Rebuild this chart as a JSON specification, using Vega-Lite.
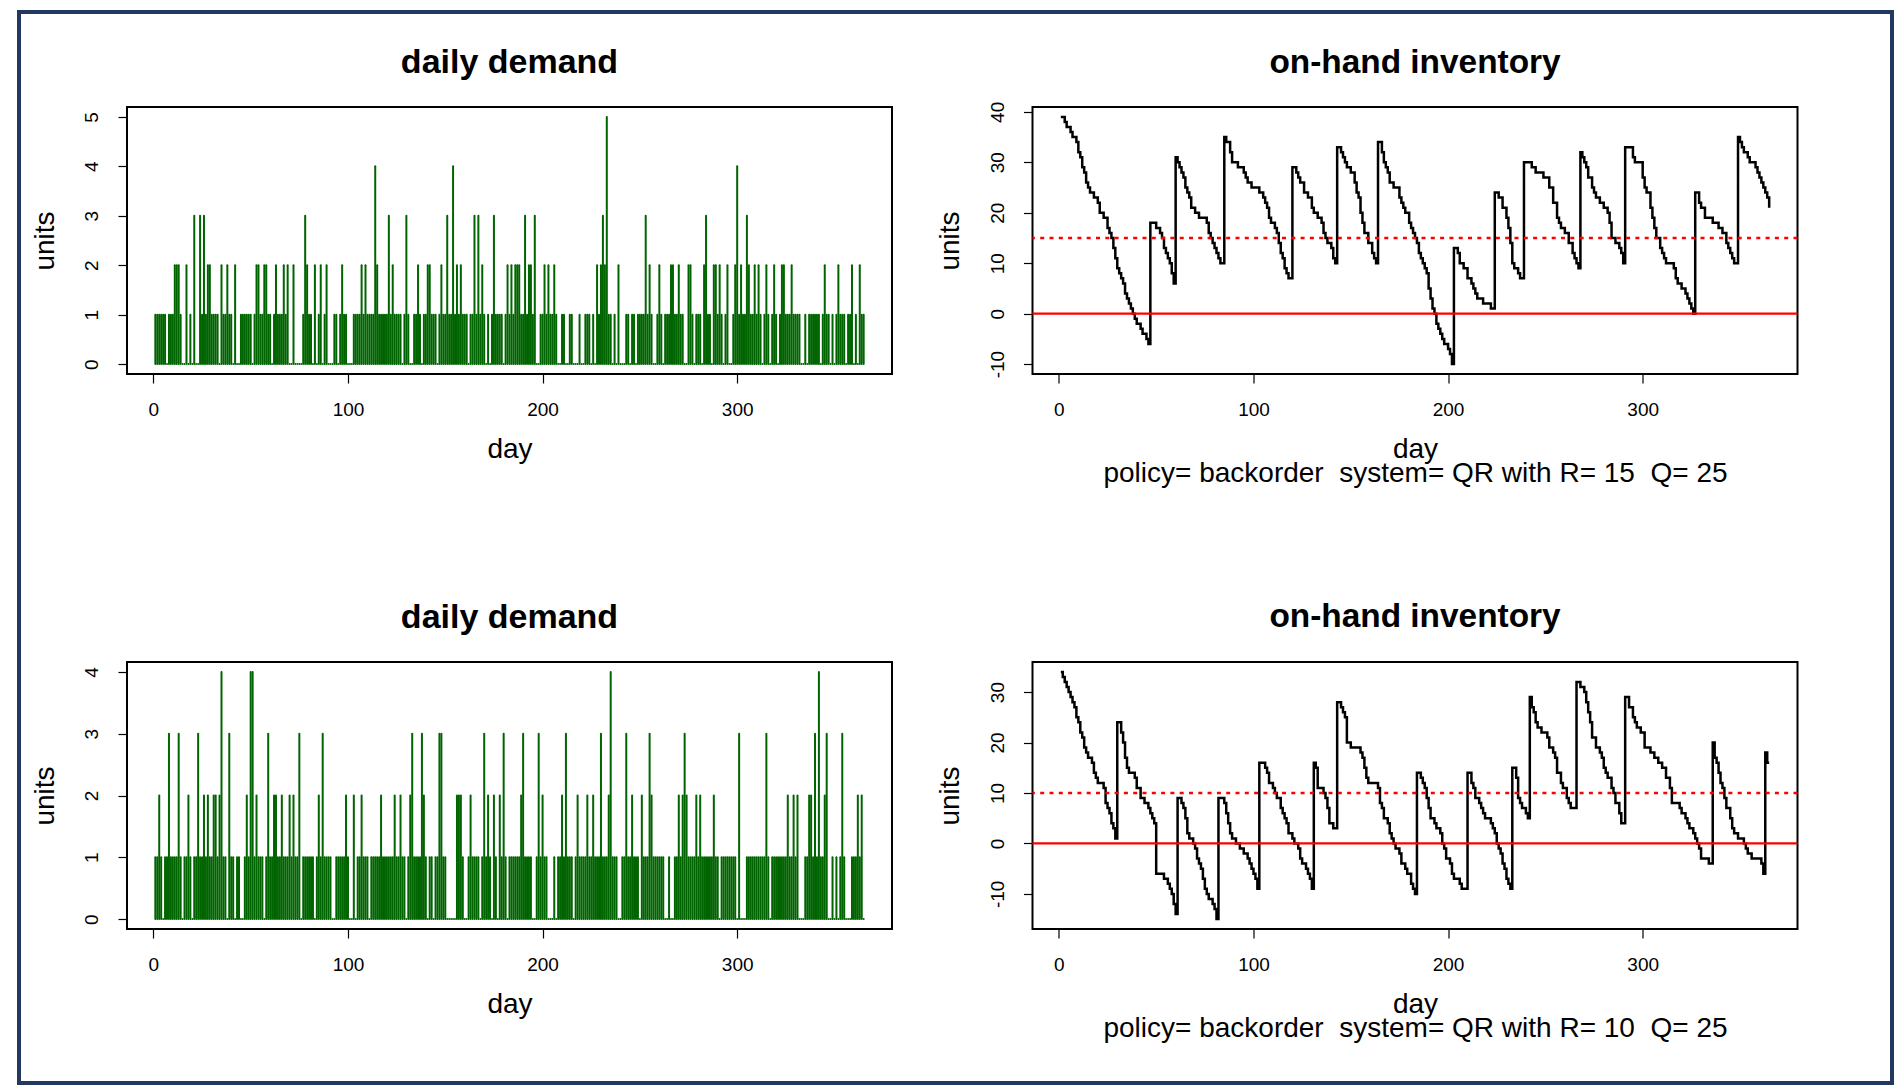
{
"$schema": "https://vega.github.io/schema/vega-lite/v6.json",
"background": "white",
"padding": {"left": 17, "top": 10, "right": 5, "bottom": 3},
"spacing": 0,
"config": {
  "font": "Liberation Sans",
  "view": {"stroke": "black", "strokeWidth": 2},
  "axis": {"domain": false, "grid": false, "ticks": true, "tickColor": "black", "tickWidth": 1.2, "tickSize": 9, "labelFont": "Liberation Sans", "labelFontSize": 19, "labelColor": "black", "titleFont": "Liberation Sans", "titleFontSize": 28, "titleFontWeight": "normal", "titleColor": "black", "labelOverlap": false, "labelFlush": false},
  "axisX": {"labelPadding": 17, "titlePadding": 16.4, "titleLineHeight": 24.2},
  "axisY": {"labelAngle": -90, "labelAlign": "center", "labelBaseline": "bottom", "labelPadding": 16.4, "titlePadding": 23.5, "labelExpr": "'' + datum.value"},
  "title": {"font": "Liberation Sans", "fontSize": 34, "fontWeight": "bold", "color": "black", "baseline": "alphabetic", "anchor": "middle", "frame": "group", "offset": 27.5}
},
"datasets": {
"demTop": [
{"day":1,"units":1},{"day":2,"units":1},{"day":3,"units":1},{"day":4,"units":1},{"day":5,"units":1},{"day":6,"units":1},{"day":7,"units":0},{"day":8,"units":1},{"day":9,"units":1},{"day":10,"units":1},
{"day":11,"units":2},{"day":12,"units":2},{"day":13,"units":2},{"day":14,"units":1},{"day":15,"units":0},{"day":16,"units":0},{"day":17,"units":2},{"day":18,"units":0},{"day":19,"units":1},{"day":20,"units":0},
{"day":21,"units":3},{"day":22,"units":0},{"day":23,"units":0},{"day":24,"units":3},{"day":25,"units":1},{"day":26,"units":3},{"day":27,"units":1},{"day":28,"units":2},{"day":29,"units":2},{"day":30,"units":1},
{"day":31,"units":1},{"day":32,"units":1},{"day":33,"units":1},{"day":34,"units":0},{"day":35,"units":2},{"day":36,"units":1},{"day":37,"units":1},{"day":38,"units":2},{"day":39,"units":1},{"day":40,"units":1},
{"day":41,"units":0},{"day":42,"units":2},{"day":43,"units":0},{"day":44,"units":0},{"day":45,"units":1},{"day":46,"units":1},{"day":47,"units":1},{"day":48,"units":1},{"day":49,"units":1},{"day":50,"units":1},
{"day":51,"units":0},{"day":52,"units":1},{"day":53,"units":2},{"day":54,"units":2},{"day":55,"units":1},{"day":56,"units":1},{"day":57,"units":2},{"day":58,"units":2},{"day":59,"units":1},{"day":60,"units":1},
{"day":61,"units":0},{"day":62,"units":1},{"day":63,"units":2},{"day":64,"units":1},{"day":65,"units":1},{"day":66,"units":1},{"day":67,"units":2},{"day":68,"units":1},{"day":69,"units":2},{"day":70,"units":0},
{"day":71,"units":0},{"day":72,"units":2},{"day":73,"units":0},{"day":74,"units":0},{"day":75,"units":0},{"day":76,"units":0},{"day":77,"units":1},{"day":78,"units":3},{"day":79,"units":2},{"day":80,"units":1},
{"day":81,"units":1},{"day":82,"units":0},{"day":83,"units":2},{"day":84,"units":0},{"day":85,"units":1},{"day":86,"units":2},{"day":87,"units":0},{"day":88,"units":1},{"day":89,"units":2},{"day":90,"units":0},
{"day":91,"units":0},{"day":92,"units":0},{"day":93,"units":1},{"day":94,"units":1},{"day":95,"units":0},{"day":96,"units":1},{"day":97,"units":2},{"day":98,"units":1},{"day":99,"units":1},{"day":100,"units":0},
{"day":101,"units":0},{"day":102,"units":0},{"day":103,"units":1},{"day":104,"units":1},{"day":105,"units":1},{"day":106,"units":1},{"day":107,"units":2},{"day":108,"units":1},{"day":109,"units":2},{"day":110,"units":1},
{"day":111,"units":1},{"day":112,"units":1},{"day":113,"units":1},{"day":114,"units":4},{"day":115,"units":2},{"day":116,"units":1},{"day":117,"units":1},{"day":118,"units":1},{"day":119,"units":1},{"day":120,"units":1},
{"day":121,"units":3},{"day":122,"units":1},{"day":123,"units":2},{"day":124,"units":1},{"day":125,"units":1},{"day":126,"units":1},{"day":127,"units":1},{"day":128,"units":0},{"day":129,"units":1},{"day":130,"units":3},
{"day":131,"units":1},{"day":132,"units":0},{"day":133,"units":0},{"day":134,"units":1},{"day":135,"units":1},{"day":136,"units":2},{"day":137,"units":1},{"day":138,"units":0},{"day":139,"units":1},{"day":140,"units":1},
{"day":141,"units":2},{"day":142,"units":2},{"day":143,"units":1},{"day":144,"units":1},{"day":145,"units":1},{"day":146,"units":0},{"day":147,"units":1},{"day":148,"units":2},{"day":149,"units":1},{"day":150,"units":1},
{"day":151,"units":3},{"day":152,"units":1},{"day":153,"units":1},{"day":154,"units":4},{"day":155,"units":1},{"day":156,"units":2},{"day":157,"units":1},{"day":158,"units":2},{"day":159,"units":1},{"day":160,"units":1},
{"day":161,"units":1},{"day":162,"units":0},{"day":163,"units":1},{"day":164,"units":1},{"day":165,"units":3},{"day":166,"units":1},{"day":167,"units":3},{"day":168,"units":1},{"day":169,"units":2},{"day":170,"units":1},
{"day":171,"units":0},{"day":172,"units":1},{"day":173,"units":0},{"day":174,"units":1},{"day":175,"units":3},{"day":176,"units":1},{"day":177,"units":1},{"day":178,"units":1},{"day":179,"units":1},{"day":180,"units":0},
{"day":181,"units":1},{"day":182,"units":2},{"day":183,"units":1},{"day":184,"units":2},{"day":185,"units":1},{"day":186,"units":2},{"day":187,"units":2},{"day":188,"units":2},{"day":189,"units":1},{"day":190,"units":1},
{"day":191,"units":3},{"day":192,"units":1},{"day":193,"units":2},{"day":194,"units":2},{"day":195,"units":1},{"day":196,"units":3},{"day":197,"units":0},{"day":198,"units":0},{"day":199,"units":1},{"day":200,"units":1},
{"day":201,"units":2},{"day":202,"units":1},{"day":203,"units":2},{"day":204,"units":1},{"day":205,"units":1},{"day":206,"units":2},{"day":207,"units":1},{"day":208,"units":0},{"day":209,"units":0},{"day":210,"units":1},
{"day":211,"units":1},{"day":212,"units":0},{"day":213,"units":0},{"day":214,"units":1},{"day":215,"units":1},{"day":216,"units":0},{"day":217,"units":0},{"day":218,"units":0},{"day":219,"units":1},{"day":220,"units":0},
{"day":221,"units":0},{"day":222,"units":1},{"day":223,"units":1},{"day":224,"units":1},{"day":225,"units":0},{"day":226,"units":1},{"day":227,"units":0},{"day":228,"units":2},{"day":229,"units":1},{"day":230,"units":2},
{"day":231,"units":3},{"day":232,"units":2},{"day":233,"units":5},{"day":234,"units":1},{"day":235,"units":1},{"day":236,"units":0},{"day":237,"units":1},{"day":238,"units":0},{"day":239,"units":2},{"day":240,"units":0},
{"day":241,"units":0},{"day":242,"units":0},{"day":243,"units":1},{"day":244,"units":1},{"day":245,"units":0},{"day":246,"units":1},{"day":247,"units":1},{"day":248,"units":0},{"day":249,"units":1},{"day":250,"units":1},
{"day":251,"units":1},{"day":252,"units":1},{"day":253,"units":3},{"day":254,"units":1},{"day":255,"units":2},{"day":256,"units":1},{"day":257,"units":0},{"day":258,"units":0},{"day":259,"units":1},{"day":260,"units":2},
{"day":261,"units":1},{"day":262,"units":0},{"day":263,"units":1},{"day":264,"units":1},{"day":265,"units":1},{"day":266,"units":2},{"day":267,"units":2},{"day":268,"units":1},{"day":269,"units":1},{"day":270,"units":2},
{"day":271,"units":1},{"day":272,"units":1},{"day":273,"units":0},{"day":274,"units":0},{"day":275,"units":2},{"day":276,"units":2},{"day":277,"units":1},{"day":278,"units":0},{"day":279,"units":1},{"day":280,"units":1},
{"day":281,"units":1},{"day":282,"units":0},{"day":283,"units":2},{"day":284,"units":3},{"day":285,"units":1},{"day":286,"units":1},{"day":287,"units":0},{"day":288,"units":2},{"day":289,"units":2},{"day":290,"units":1},
{"day":291,"units":2},{"day":292,"units":1},{"day":293,"units":0},{"day":294,"units":1},{"day":295,"units":2},{"day":296,"units":0},{"day":297,"units":0},{"day":298,"units":1},{"day":299,"units":2},{"day":300,"units":4},
{"day":301,"units":1},{"day":302,"units":2},{"day":303,"units":1},{"day":304,"units":1},{"day":305,"units":3},{"day":306,"units":2},{"day":307,"units":1},{"day":308,"units":1},{"day":309,"units":2},{"day":310,"units":1},
{"day":311,"units":2},{"day":312,"units":1},{"day":313,"units":0},{"day":314,"units":1},{"day":315,"units":2},{"day":316,"units":1},{"day":317,"units":0},{"day":318,"units":1},{"day":319,"units":2},{"day":320,"units":1},
{"day":321,"units":0},{"day":322,"units":1},{"day":323,"units":2},{"day":324,"units":2},{"day":325,"units":1},{"day":326,"units":1},{"day":327,"units":1},{"day":328,"units":2},{"day":329,"units":1},{"day":330,"units":1},
{"day":331,"units":1},{"day":332,"units":1},{"day":333,"units":0},{"day":334,"units":0},{"day":335,"units":1},{"day":336,"units":0},{"day":337,"units":1},{"day":338,"units":1},{"day":339,"units":1},{"day":340,"units":1},
{"day":341,"units":1},{"day":342,"units":1},{"day":343,"units":0},{"day":344,"units":1},{"day":345,"units":2},{"day":346,"units":1},{"day":347,"units":1},{"day":348,"units":0},{"day":349,"units":1},{"day":350,"units":0},
{"day":351,"units":1},{"day":352,"units":2},{"day":353,"units":1},{"day":354,"units":1},{"day":355,"units":1},{"day":356,"units":0},{"day":357,"units":1},{"day":358,"units":1},{"day":359,"units":2},{"day":360,"units":0},
{"day":361,"units":1},{"day":362,"units":0},{"day":363,"units":2},{"day":364,"units":1},{"day":365,"units":1}
],
"demBot": [
{"day":1,"units":1},{"day":2,"units":1},{"day":3,"units":2},{"day":4,"units":1},{"day":5,"units":0},{"day":6,"units":1},{"day":7,"units":1},{"day":8,"units":3},{"day":9,"units":1},{"day":10,"units":1},
{"day":11,"units":1},{"day":12,"units":1},{"day":13,"units":3},{"day":14,"units":1},{"day":15,"units":0},{"day":16,"units":1},{"day":17,"units":1},{"day":18,"units":2},{"day":19,"units":1},{"day":20,"units":0},
{"day":21,"units":1},{"day":22,"units":1},{"day":23,"units":3},{"day":24,"units":1},{"day":25,"units":1},{"day":26,"units":2},{"day":27,"units":1},{"day":28,"units":2},{"day":29,"units":1},{"day":30,"units":1},
{"day":31,"units":2},{"day":32,"units":2},{"day":33,"units":1},{"day":34,"units":2},{"day":35,"units":4},{"day":36,"units":1},{"day":37,"units":1},{"day":38,"units":0},{"day":39,"units":3},{"day":40,"units":1},
{"day":41,"units":1},{"day":42,"units":0},{"day":43,"units":1},{"day":44,"units":1},{"day":45,"units":0},{"day":46,"units":0},{"day":47,"units":1},{"day":48,"units":2},{"day":49,"units":1},{"day":50,"units":4},
{"day":51,"units":4},{"day":52,"units":1},{"day":53,"units":2},{"day":54,"units":1},{"day":55,"units":1},{"day":56,"units":1},{"day":57,"units":0},{"day":58,"units":1},{"day":59,"units":3},{"day":60,"units":1},
{"day":61,"units":1},{"day":62,"units":2},{"day":63,"units":2},{"day":64,"units":1},{"day":65,"units":1},{"day":66,"units":2},{"day":67,"units":1},{"day":68,"units":1},{"day":69,"units":1},{"day":70,"units":2},
{"day":71,"units":1},{"day":72,"units":2},{"day":73,"units":1},{"day":74,"units":1},{"day":75,"units":3},{"day":76,"units":0},{"day":77,"units":1},{"day":78,"units":1},{"day":79,"units":1},{"day":80,"units":1},
{"day":81,"units":1},{"day":82,"units":1},{"day":83,"units":0},{"day":84,"units":1},{"day":85,"units":2},{"day":86,"units":1},{"day":87,"units":3},{"day":88,"units":1},{"day":89,"units":1},{"day":90,"units":1},
{"day":91,"units":1},{"day":92,"units":0},{"day":93,"units":0},{"day":94,"units":1},{"day":95,"units":1},{"day":96,"units":1},{"day":97,"units":1},{"day":98,"units":1},{"day":99,"units":2},{"day":100,"units":1},
{"day":101,"units":0},{"day":102,"units":0},{"day":103,"units":2},{"day":104,"units":0},{"day":105,"units":1},{"day":106,"units":1},{"day":107,"units":2},{"day":108,"units":1},{"day":109,"units":1},{"day":110,"units":1},
{"day":111,"units":0},{"day":112,"units":1},{"day":113,"units":1},{"day":114,"units":1},{"day":115,"units":1},{"day":116,"units":1},{"day":117,"units":2},{"day":118,"units":1},{"day":119,"units":1},{"day":120,"units":1},
{"day":121,"units":1},{"day":122,"units":1},{"day":123,"units":1},{"day":124,"units":2},{"day":125,"units":1},{"day":126,"units":1},{"day":127,"units":2},{"day":128,"units":1},{"day":129,"units":1},{"day":130,"units":0},
{"day":131,"units":1},{"day":132,"units":2},{"day":133,"units":3},{"day":134,"units":1},{"day":135,"units":1},{"day":136,"units":1},{"day":137,"units":1},{"day":138,"units":3},{"day":139,"units":2},{"day":140,"units":1},
{"day":141,"units":0},{"day":142,"units":1},{"day":143,"units":1},{"day":144,"units":0},{"day":145,"units":1},{"day":146,"units":1},{"day":147,"units":3},{"day":148,"units":3},{"day":149,"units":1},{"day":150,"units":1},
{"day":151,"units":0},{"day":152,"units":0},{"day":153,"units":0},{"day":154,"units":0},{"day":155,"units":0},{"day":156,"units":2},{"day":157,"units":2},{"day":158,"units":2},{"day":159,"units":1},{"day":160,"units":0},
{"day":161,"units":0},{"day":162,"units":1},{"day":163,"units":2},{"day":164,"units":1},{"day":165,"units":1},{"day":166,"units":1},{"day":167,"units":1},{"day":168,"units":0},{"day":169,"units":1},{"day":170,"units":3},
{"day":171,"units":1},{"day":172,"units":2},{"day":173,"units":1},{"day":174,"units":0},{"day":175,"units":2},{"day":176,"units":1},{"day":177,"units":0},{"day":178,"units":2},{"day":179,"units":1},{"day":180,"units":3},
{"day":181,"units":1},{"day":182,"units":0},{"day":183,"units":1},{"day":184,"units":1},{"day":185,"units":1},{"day":186,"units":1},{"day":187,"units":1},{"day":188,"units":1},{"day":189,"units":2},{"day":190,"units":3},
{"day":191,"units":1},{"day":192,"units":1},{"day":193,"units":1},{"day":194,"units":1},{"day":195,"units":0},{"day":196,"units":0},{"day":197,"units":1},{"day":198,"units":3},{"day":199,"units":1},{"day":200,"units":2},
{"day":201,"units":1},{"day":202,"units":1},{"day":203,"units":0},{"day":204,"units":0},{"day":205,"units":0},{"day":206,"units":1},{"day":207,"units":0},{"day":208,"units":1},{"day":209,"units":1},{"day":210,"units":2},
{"day":211,"units":1},{"day":212,"units":3},{"day":213,"units":1},{"day":214,"units":1},{"day":215,"units":1},{"day":216,"units":0},{"day":217,"units":1},{"day":218,"units":2},{"day":219,"units":1},{"day":220,"units":1},
{"day":221,"units":1},{"day":222,"units":1},{"day":223,"units":2},{"day":224,"units":1},{"day":225,"units":1},{"day":226,"units":2},{"day":227,"units":1},{"day":228,"units":1},{"day":229,"units":1},{"day":230,"units":3},
{"day":231,"units":1},{"day":232,"units":1},{"day":233,"units":1},{"day":234,"units":2},{"day":235,"units":4},{"day":236,"units":1},{"day":237,"units":1},{"day":238,"units":1},{"day":239,"units":0},{"day":240,"units":0},
{"day":241,"units":1},{"day":242,"units":1},{"day":243,"units":3},{"day":244,"units":1},{"day":245,"units":1},{"day":246,"units":2},{"day":247,"units":1},{"day":248,"units":1},{"day":249,"units":1},{"day":250,"units":0},
{"day":251,"units":2},{"day":252,"units":1},{"day":253,"units":1},{"day":254,"units":1},{"day":255,"units":3},{"day":256,"units":2},{"day":257,"units":1},{"day":258,"units":1},{"day":259,"units":1},{"day":260,"units":1},
{"day":261,"units":1},{"day":262,"units":1},{"day":263,"units":0},{"day":264,"units":0},{"day":265,"units":1},{"day":266,"units":0},{"day":267,"units":0},{"day":268,"units":1},{"day":269,"units":1},{"day":270,"units":2},
{"day":271,"units":1},{"day":272,"units":2},{"day":273,"units":3},{"day":274,"units":2},{"day":275,"units":1},{"day":276,"units":1},{"day":277,"units":1},{"day":278,"units":1},{"day":279,"units":2},{"day":280,"units":1},
{"day":281,"units":2},{"day":282,"units":1},{"day":283,"units":1},{"day":284,"units":1},{"day":285,"units":1},{"day":286,"units":1},{"day":287,"units":1},{"day":288,"units":2},{"day":289,"units":1},{"day":290,"units":1},
{"day":291,"units":0},{"day":292,"units":1},{"day":293,"units":1},{"day":294,"units":1},{"day":295,"units":1},{"day":296,"units":1},{"day":297,"units":1},{"day":298,"units":1},{"day":299,"units":1},{"day":300,"units":0},
{"day":301,"units":3},{"day":302,"units":0},{"day":303,"units":0},{"day":304,"units":0},{"day":305,"units":1},{"day":306,"units":1},{"day":307,"units":1},{"day":308,"units":1},{"day":309,"units":1},{"day":310,"units":1},
{"day":311,"units":1},{"day":312,"units":1},{"day":313,"units":1},{"day":314,"units":1},{"day":315,"units":3},{"day":316,"units":1},{"day":317,"units":0},{"day":318,"units":1},{"day":319,"units":1},{"day":320,"units":1},
{"day":321,"units":1},{"day":322,"units":1},{"day":323,"units":1},{"day":324,"units":1},{"day":325,"units":1},{"day":326,"units":2},{"day":327,"units":1},{"day":328,"units":1},{"day":329,"units":2},{"day":330,"units":1},
{"day":331,"units":2},{"day":332,"units":0},{"day":333,"units":0},{"day":334,"units":0},{"day":335,"units":1},{"day":336,"units":1},{"day":337,"units":2},{"day":338,"units":2},{"day":339,"units":1},{"day":340,"units":3},
{"day":341,"units":1},{"day":342,"units":4},{"day":343,"units":1},{"day":344,"units":1},{"day":345,"units":2},{"day":346,"units":3},{"day":347,"units":0},{"day":348,"units":0},{"day":349,"units":1},{"day":350,"units":0},
{"day":351,"units":1},{"day":352,"units":0},{"day":353,"units":1},{"day":354,"units":3},{"day":355,"units":1},{"day":356,"units":0},{"day":357,"units":0},{"day":358,"units":0},{"day":359,"units":1},{"day":360,"units":1},
{"day":361,"units":1},{"day":362,"units":2},{"day":363,"units":1},{"day":364,"units":2},{"day":365,"units":0}
],
"invTop": [
{"day":1,"units":39},{"day":3,"units":38},{"day":4,"units":37},{"day":6,"units":36},{"day":7,"units":35},{"day":9,"units":34},{"day":10,"units":32},{"day":11,"units":31},{"day":12,"units":29},{"day":13,"units":28},{"day":14,"units":26},{"day":15,"units":25},{"day":16,"units":24},{"day":18,"units":23},{"day":20,"units":22},{"day":21,"units":20},{"day":23,"units":19},{"day":25,"units":17},{"day":26,"units":16},{"day":27,"units":15},{"day":28,"units":13},{"day":29,"units":11},{"day":30,"units":9},{"day":31,"units":8},{"day":32,"units":7},{"day":33,"units":6},{"day":34,"units":4},{"day":35,"units":3},{"day":36,"units":2},{"day":37,"units":1},{"day":38,"units":0},{"day":39,"units":-1},{"day":40,"units":-2},{"day":42,"units":-3},{"day":43,"units":-4},{"day":45,"units":-5},{"day":46,"units":-6},
{"day":47,"units":18},{"day":50,"units":17},{"day":52,"units":16},{"day":53,"units":15},{"day":54,"units":13},{"day":55,"units":12},{"day":56,"units":11},{"day":57,"units":10},{"day":58,"units":8},{"day":59,"units":6},
{"day":60,"units":31},{"day":61,"units":30},{"day":62,"units":29},{"day":63,"units":28},{"day":64,"units":27},{"day":65,"units":25},{"day":66,"units":24},{"day":67,"units":23},{"day":68,"units":21},{"day":70,"units":20},{"day":72,"units":19},{"day":76,"units":18},{"day":77,"units":16},{"day":78,"units":15},{"day":79,"units":14},{"day":80,"units":13},{"day":81,"units":12},{"day":82,"units":11},{"day":83,"units":10},
{"day":85,"units":35},{"day":86,"units":34},{"day":88,"units":32},{"day":89,"units":30},{"day":92,"units":29},{"day":95,"units":28},{"day":96,"units":27},{"day":97,"units":26},{"day":99,"units":25},{"day":103,"units":24},{"day":105,"units":23},{"day":106,"units":22},{"day":107,"units":21},{"day":108,"units":19},{"day":109,"units":18},{"day":111,"units":17},{"day":112,"units":16},{"day":113,"units":14},{"day":114,"units":12},{"day":115,"units":11},{"day":116,"units":9},{"day":117,"units":8},{"day":118,"units":7},
{"day":120,"units":29},{"day":122,"units":28},{"day":123,"units":27},{"day":124,"units":26},{"day":126,"units":24},{"day":128,"units":23},{"day":130,"units":21},{"day":131,"units":20},{"day":133,"units":19},{"day":135,"units":18},{"day":136,"units":16},{"day":137,"units":15},{"day":138,"units":14},{"day":140,"units":13},{"day":141,"units":11},{"day":142,"units":10},
{"day":143,"units":33},{"day":145,"units":32},{"day":146,"units":31},{"day":147,"units":30},{"day":148,"units":29},{"day":150,"units":28},{"day":152,"units":26},{"day":153,"units":24},{"day":154,"units":23},{"day":155,"units":20},{"day":156,"units":18},{"day":157,"units":16},{"day":159,"units":14},{"day":161,"units":12},{"day":162,"units":11},{"day":163,"units":10},
{"day":164,"units":34},{"day":166,"units":32},{"day":167,"units":30},{"day":168,"units":29},{"day":169,"units":28},{"day":170,"units":26},{"day":172,"units":25},{"day":175,"units":23},{"day":176,"units":22},{"day":177,"units":21},{"day":178,"units":20},{"day":180,"units":18},{"day":181,"units":17},{"day":182,"units":16},{"day":183,"units":15},{"day":184,"units":14},{"day":185,"units":12},{"day":186,"units":11},{"day":187,"units":10},{"day":188,"units":9},{"day":189,"units":8},{"day":190,"units":5},{"day":191,"units":3},{"day":192,"units":1},{"day":193,"units":0},{"day":194,"units":-2},{"day":195,"units":-3},{"day":196,"units":-4},{"day":197,"units":-5},{"day":198,"units":-6},{"day":200,"units":-7},{"day":201,"units":-8},{"day":202,"units":-10},
{"day":203,"units":13},{"day":205,"units":12},{"day":206,"units":10},{"day":208,"units":9},{"day":210,"units":7},{"day":212,"units":6},{"day":213,"units":5},{"day":214,"units":4},{"day":215,"units":3},{"day":218,"units":2},{"day":222,"units":1},
{"day":224,"units":24},{"day":226,"units":23},{"day":228,"units":21},{"day":230,"units":19},{"day":231,"units":17},{"day":232,"units":14},{"day":233,"units":10},{"day":234,"units":9},{"day":236,"units":8},{"day":237,"units":7},
{"day":239,"units":30},{"day":243,"units":29},{"day":245,"units":28},{"day":249,"units":27},{"day":252,"units":25},{"day":254,"units":22},{"day":256,"units":19},{"day":257,"units":18},{"day":258,"units":17},{"day":260,"units":16},{"day":262,"units":14},{"day":264,"units":12},{"day":265,"units":11},{"day":266,"units":10},{"day":267,"units":9},
{"day":268,"units":32},{"day":269,"units":31},{"day":270,"units":30},{"day":271,"units":29},{"day":272,"units":27},{"day":274,"units":25},{"day":275,"units":24},{"day":276,"units":23},{"day":278,"units":22},{"day":280,"units":21},{"day":282,"units":20},{"day":283,"units":18},{"day":284,"units":15},{"day":286,"units":14},{"day":288,"units":13},{"day":289,"units":12},{"day":290,"units":10},
{"day":291,"units":33},{"day":295,"units":31},{"day":296,"units":30},{"day":300,"units":27},{"day":301,"units":25},{"day":302,"units":24},{"day":304,"units":21},{"day":305,"units":19},{"day":306,"units":17},{"day":307,"units":15},{"day":309,"units":13},{"day":310,"units":12},{"day":311,"units":11},{"day":312,"units":10},{"day":316,"units":9},{"day":317,"units":7},{"day":318,"units":6},{"day":320,"units":5},{"day":322,"units":4},{"day":323,"units":3},{"day":324,"units":2},{"day":325,"units":1},{"day":326,"units":0},
{"day":327,"units":24},{"day":329,"units":22},{"day":330,"units":21},{"day":332,"units":19},{"day":336,"units":18},{"day":339,"units":17},{"day":341,"units":16},{"day":343,"units":14},{"day":344,"units":13},{"day":345,"units":12},{"day":346,"units":11},{"day":347,"units":10},
{"day":349,"units":35},{"day":350,"units":34},{"day":351,"units":33},{"day":352,"units":32},{"day":354,"units":31},{"day":355,"units":30},{"day":358,"units":29},{"day":359,"units":28},{"day":360,"units":27},{"day":361,"units":26},{"day":362,"units":25},{"day":363,"units":24},{"day":364,"units":23},{"day":365,"units":21}
],
"invBot": [
{"day":1,"units":34},{"day":2,"units":33},{"day":3,"units":32},{"day":4,"units":31},{"day":5,"units":30},{"day":6,"units":29},{"day":7,"units":28},{"day":8,"units":27},{"day":9,"units":25},{"day":10,"units":24},{"day":11,"units":22},{"day":12,"units":21},{"day":13,"units":19},{"day":14,"units":18},{"day":15,"units":17},{"day":17,"units":16},{"day":18,"units":14},{"day":19,"units":13},{"day":20,"units":12},{"day":23,"units":11},{"day":24,"units":8},{"day":25,"units":7},{"day":26,"units":6},{"day":27,"units":4},{"day":28,"units":3},{"day":29,"units":1},
{"day":30,"units":24},{"day":32,"units":22},{"day":33,"units":20},{"day":34,"units":17},{"day":35,"units":15},{"day":36,"units":14},{"day":39,"units":13},{"day":40,"units":11},{"day":42,"units":9},{"day":44,"units":8},{"day":46,"units":7},{"day":47,"units":6},{"day":48,"units":5},{"day":49,"units":4},{"day":50,"units":-6},{"day":54,"units":-7},{"day":56,"units":-8},{"day":57,"units":-9},{"day":58,"units":-10},{"day":59,"units":-12},{"day":60,"units":-14},
{"day":61,"units":9},{"day":63,"units":8},{"day":64,"units":7},{"day":65,"units":5},{"day":66,"units":2},{"day":67,"units":1},{"day":69,"units":0},{"day":70,"units":-1},{"day":71,"units":-3},{"day":72,"units":-4},{"day":73,"units":-5},{"day":74,"units":-7},{"day":75,"units":-9},{"day":76,"units":-10},{"day":77,"units":-11},{"day":79,"units":-12},{"day":80,"units":-13},{"day":81,"units":-15},
{"day":82,"units":9},{"day":85,"units":8},{"day":86,"units":6},{"day":87,"units":4},{"day":88,"units":2},{"day":89,"units":1},{"day":91,"units":0},{"day":93,"units":-1},{"day":95,"units":-2},{"day":97,"units":-3},{"day":98,"units":-4},{"day":99,"units":-5},{"day":100,"units":-6},{"day":101,"units":-7},{"day":102,"units":-9},
{"day":103,"units":16},{"day":106,"units":15},{"day":107,"units":14},{"day":108,"units":12},{"day":110,"units":11},{"day":111,"units":10},{"day":112,"units":9},{"day":114,"units":7},{"day":115,"units":6},{"day":116,"units":5},{"day":117,"units":4},{"day":118,"units":2},{"day":120,"units":1},{"day":121,"units":0},{"day":123,"units":-1},{"day":124,"units":-3},{"day":125,"units":-4},{"day":127,"units":-5},{"day":128,"units":-6},{"day":129,"units":-7},{"day":130,"units":-9},
{"day":131,"units":16},{"day":132,"units":15},{"day":133,"units":11},{"day":136,"units":10},{"day":137,"units":9},{"day":138,"units":7},{"day":139,"units":4},{"day":141,"units":3},
{"day":143,"units":28},{"day":145,"units":27},{"day":146,"units":26},{"day":147,"units":25},{"day":148,"units":20},{"day":150,"units":19},{"day":155,"units":18},{"day":156,"units":17},{"day":157,"units":15},{"day":158,"units":13},{"day":159,"units":12},{"day":164,"units":11},{"day":165,"units":8},{"day":166,"units":7},{"day":167,"units":5},{"day":169,"units":4},{"day":170,"units":2},{"day":171,"units":1},{"day":172,"units":0},{"day":173,"units":-1},{"day":175,"units":-2},{"day":176,"units":-4},{"day":178,"units":-5},{"day":179,"units":-6},{"day":181,"units":-8},{"day":182,"units":-9},{"day":183,"units":-10},
{"day":184,"units":14},{"day":186,"units":13},{"day":187,"units":12},{"day":188,"units":11},{"day":189,"units":9},{"day":190,"units":7},{"day":191,"units":5},{"day":193,"units":4},{"day":194,"units":3},{"day":196,"units":2},{"day":197,"units":0},{"day":198,"units":-1},{"day":199,"units":-3},{"day":201,"units":-4},{"day":202,"units":-6},{"day":203,"units":-7},{"day":206,"units":-8},{"day":207,"units":-9},
{"day":210,"units":14},{"day":212,"units":12},{"day":213,"units":11},{"day":214,"units":9},{"day":216,"units":8},{"day":217,"units":7},{"day":218,"units":6},{"day":219,"units":5},{"day":222,"units":4},{"day":223,"units":3},{"day":224,"units":2},{"day":225,"units":0},{"day":226,"units":-1},{"day":227,"units":-2},{"day":228,"units":-4},{"day":229,"units":-5},{"day":230,"units":-7},{"day":231,"units":-8},{"day":232,"units":-9},
{"day":233,"units":15},{"day":235,"units":13},{"day":236,"units":9},{"day":237,"units":8},{"day":238,"units":7},{"day":240,"units":6},{"day":241,"units":5},
{"day":242,"units":29},{"day":243,"units":27},{"day":244,"units":26},{"day":245,"units":24},{"day":246,"units":23},{"day":248,"units":22},{"day":251,"units":21},{"day":252,"units":19},{"day":254,"units":18},{"day":255,"units":17},{"day":256,"units":14},{"day":258,"units":12},{"day":259,"units":11},{"day":261,"units":9},{"day":262,"units":8},{"day":263,"units":7},
{"day":266,"units":32},{"day":268,"units":31},{"day":270,"units":30},{"day":271,"units":28},{"day":272,"units":26},{"day":273,"units":24},{"day":274,"units":21},{"day":276,"units":19},{"day":278,"units":18},{"day":279,"units":17},{"day":280,"units":15},{"day":281,"units":14},{"day":282,"units":13},{"day":284,"units":11},{"day":285,"units":10},{"day":286,"units":8},{"day":288,"units":6},{"day":289,"units":4},
{"day":291,"units":29},{"day":293,"units":27},{"day":295,"units":25},{"day":296,"units":24},{"day":297,"units":23},{"day":299,"units":22},{"day":301,"units":19},{"day":304,"units":18},{"day":306,"units":17},{"day":308,"units":16},{"day":310,"units":15},{"day":312,"units":13},{"day":314,"units":11},{"day":315,"units":8},{"day":319,"units":7},{"day":320,"units":6},{"day":322,"units":5},{"day":323,"units":4},{"day":324,"units":3},{"day":326,"units":2},{"day":327,"units":1},{"day":328,"units":0},{"day":329,"units":-1},{"day":330,"units":-3},{"day":334,"units":-4},
{"day":336,"units":20},{"day":337,"units":17},{"day":338,"units":16},{"day":339,"units":14},{"day":340,"units":12},{"day":341,"units":11},{"day":342,"units":9},{"day":343,"units":7},{"day":345,"units":5},{"day":346,"units":3},{"day":347,"units":2},{"day":349,"units":1},{"day":352,"units":0},{"day":353,"units":-1},{"day":354,"units":-2},{"day":356,"units":-3},{"day":361,"units":-4},{"day":362,"units":-6},
{"day":363,"units":18},{"day":364,"units":16},{"day":365,"units":16}
]
},
"hconcat": [
  {"data": {"values": []}, "mark": "point", "width": 4, "height": 1075, "view": {"fill": "#22395d", "stroke": null}},
  {"spacing": 0, "vconcat": [
    {"data": {"values": []}, "mark": "point", "width": 1869, "height": 4, "view": {"fill": "#22395d", "stroke": null}},
    {"spacing": 0, "hconcat": [
      {"data": {"values": []}, "mark": "point", "width": 8.3, "height": 1067, "view": {"stroke": null}},
      {"spacing": 0, "vconcat": [
        {"data": {"values": []}, "mark": "point", "width": 1, "height": 29.9, "view": {"stroke": null}},
        {"columns": 2, "bounds": "flush", "spacing": {"row": 288, "column": 140.5}, "concat": [
          {"width": 765, "height": 267, "title": {"text": "daily demand"},
           "data": {"name": "demTop"},
           "mark": {"type": "rule", "color": "#006400", "strokeWidth": 2, "strokeCap": "round"},
           "encoding": {
             "x": {"field": "day", "type": "quantitative", "scale": {"domain": [-13.56, 379.56], "nice": false, "zero": false}, "axis": {"values": [0, 100, 200, 300], "title": "day"}},
             "y": {"field": "units", "type": "quantitative", "scale": {"domain": [-0.2, 5.2], "nice": false, "zero": false}, "axis": {"values": [0, 1, 2, 3, 4, 5], "title": "units"}},
             "y2": {"datum": 0}
           }},
          {"width": 765, "height": 267, "title": {"text": "on-hand inventory", "offset": 21.3, "fontSize": 33.4},
           "layer": [
             {"data": {"name": "invTop"},
              "mark": {"type": "line", "interpolate": "step-after", "color": "black", "strokeWidth": 2.5},
              "encoding": {
                "x": {"field": "day", "type": "quantitative", "scale": {"domain": [-13.56, 379.56], "nice": false, "zero": false}, "axis": {"values": [0, 100, 200, 300], "title": ["day", "policy= backorder \u00a0system= QR with R= 15 \u00a0Q= 25"]}},
                "y": {"field": "units", "type": "quantitative", "scale": {"domain": [-11.96, 40.96], "nice": false, "zero": false}, "axis": {"values": [-10, 0, 10, 20, 30, 40], "title": "units"}}
              }},
             {"data": {"values": [{"level": 0}]}, "mark": {"type": "rule", "color": "#ff0000", "strokeWidth": 2.3}, "encoding": {"y": {"field": "level", "type": "quantitative"}}},
             {"data": {"values": [{"level": 15}]}, "mark": {"type": "rule", "color": "#ff0000", "strokeWidth": 2.5, "strokeDash": [4, 5.3]}, "encoding": {"y": {"field": "level", "type": "quantitative"}}}
           ]},
          {"width": 765, "height": 267, "title": {"text": "daily demand"},
           "data": {"name": "demBot"},
           "mark": {"type": "rule", "color": "#006400", "strokeWidth": 2, "strokeCap": "round"},
           "encoding": {
             "x": {"field": "day", "type": "quantitative", "scale": {"domain": [-13.56, 379.56], "nice": false, "zero": false}, "axis": {"values": [0, 100, 200, 300], "title": "day"}},
             "y": {"field": "units", "type": "quantitative", "scale": {"domain": [-0.16, 4.16], "nice": false, "zero": false}, "axis": {"values": [0, 1, 2, 3, 4], "title": "units"}},
             "y2": {"datum": 0}
           }},
          {"width": 765, "height": 267, "title": {"text": "on-hand inventory", "fontSize": 33.4},
           "layer": [
             {"data": {"name": "invBot"},
              "mark": {"type": "line", "interpolate": "step-after", "color": "black", "strokeWidth": 2.5},
              "encoding": {
                "x": {"field": "day", "type": "quantitative", "scale": {"domain": [-13.56, 379.56], "nice": false, "zero": false}, "axis": {"values": [0, 100, 200, 300], "title": ["day", "policy= backorder \u00a0system= QR with R= 10 \u00a0Q= 25"]}},
                "y": {"field": "units", "type": "quantitative", "scale": {"domain": [-16.96, 35.96], "nice": false, "zero": false}, "axis": {"values": [-10, 0, 10, 20, 30], "title": "units"}}
              }},
             {"data": {"values": [{"level": 0}]}, "mark": {"type": "rule", "color": "#ff0000", "strokeWidth": 2.3}, "encoding": {"y": {"field": "level", "type": "quantitative"}}},
             {"data": {"values": [{"level": 10}]}, "mark": {"type": "rule", "color": "#ff0000", "strokeWidth": 2.5, "strokeDash": [4, 5.3]}, "encoding": {"y": {"field": "level", "type": "quantitative"}}}
           ]}
        ]}
      ]}
    ]},
    {"data": {"values": []}, "mark": "point", "width": 1869, "height": 4, "view": {"fill": "#22395d", "stroke": null}}
  ]},
  {"data": {"values": []}, "mark": "point", "width": 4, "height": 1075, "view": {"fill": "#22395d", "stroke": null}}
]
}
